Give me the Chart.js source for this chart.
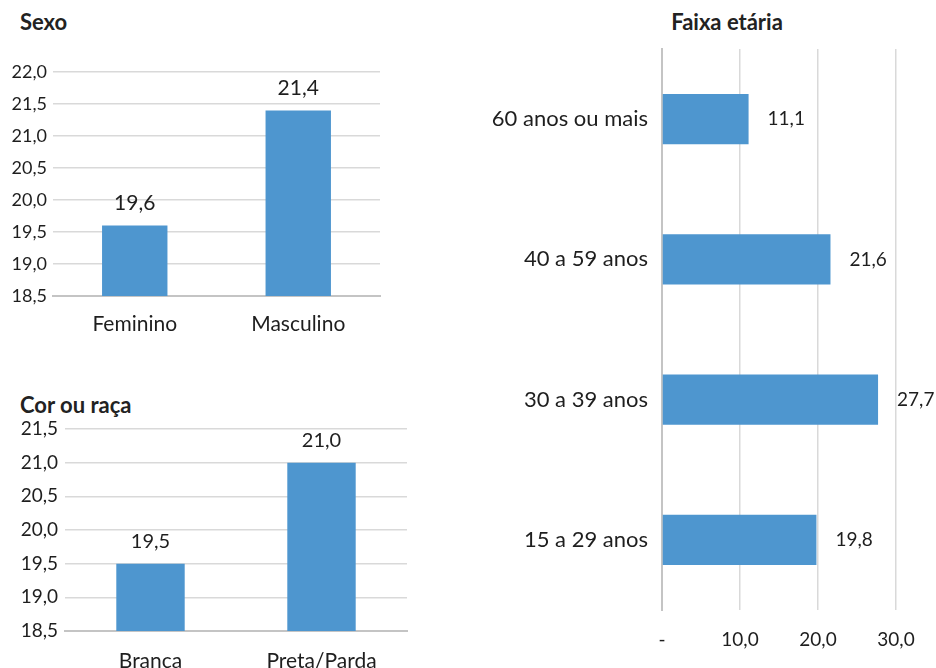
<!DOCTYPE html>
<html lang="pt-BR">
<head>
<meta charset="utf-8">
<title>Sexo, cor ou raça e faixa etária</title>
<script src="https://cdn.jsdelivr.net/npm/chart.js@4.4.1/dist/chart.umd.min.js"></script>
<style>
    body { margin: 0; background: #fff; font-family: Lato, "Open Sans", sans-serif; }
    #wrap { position: relative; width: 936px; height: 668px; overflow: hidden; }
    #wrap canvas { position: absolute; }
    .titulo { position: absolute; font-weight: 700; font-size: 22px; line-height: 24px; color: #222; white-space: nowrap; }
</style>
</head>
<body>
<div id="wrap">
    <div class="titulo" style="left:20px; top:10px;">Sexo</div>
    <div class="titulo" style="left:20px; top:393px;">Cor ou raça</div>
    <div class="titulo" style="left:727px; top:10px; transform:translateX(-50%);">Faixa etária</div>
    <canvas id="sexoChart" width="400" height="340" style="left:0; top:0;"></canvas>
    <canvas id="corChart" width="420" height="268" style="left:0; top:400px;"></canvas>
    <canvas id="faixaChart" width="456" height="668" style="left:480px; top:0;"></canvas>
</div>
<script>
// dados
const sexoLabels = ['Feminino', 'Masculino'];
const sexoValores = [19.6, 21.4];
const sexoTicks = { min: 18.5, max: 22.0, step: 0.5 };

const corLabels = ['Branca', 'Preta/Parda'];
const corValores = [19.5, 21.0];
const corTicks = { min: 18.5, max: 21.5, step: 0.5 };

const faixaLabels = ['60 anos ou mais', '40 a 59 anos', '30 a 39 anos', '15 a 29 anos'];
const faixaValores = [11.1, 21.6, 27.7, 19.8];
const faixaTicks = { min: 0, max: 30, step: 10 };

const AZUL = '#4e96cf';
const TEXTO = '#1e1e1e';
const GRADE = '#d9d9d9';
const EIXO = '#c4c4c4';
const FONTE = 'Lato, "Open Sans", sans-serif';

const fmt = v => Number(v).toFixed(1).replace('.', ',');

// rótulos de valor nas barras
const rotulosValor = {
    id: 'rotulosValor',
    afterDatasetsDraw(chart, args, opts) {
        const ctx = chart.ctx;
        const meta = chart.getDatasetMeta(0);
        const dados = chart.data.datasets[0].data;
        ctx.save();
        ctx.font = `${opts.size}px ${FONTE}`;
        ctx.fillStyle = TEXTO;
        ctx.textBaseline = 'middle';
        meta.data.forEach((bar, i) => {
            const txt = fmt(dados[i]);
            if (opts.horizontal) {
                ctx.textAlign = 'left';
                ctx.fillText(txt, bar.x + opts.offset, bar.y);
            } else {
                ctx.textAlign = 'center';
                ctx.fillText(txt, bar.x, bar.y - opts.offset);
            }
        });
        ctx.restore();
    }
};

function colunas(id, labels, valores, t, cfg) {
    return new Chart(document.getElementById(id), {
        type: 'bar',
        data: {
            labels: labels,
            datasets: [{
                data: valores,
                backgroundColor: AZUL,
                borderWidth: 0,
                barPercentage: 0.4,
                categoryPercentage: 1
            }]
        },
        options: {
            responsive: false,
            animation: false,
            layout: { padding: { top: cfg.top, right: cfg.right, left: 0, bottom: 0 } },
            plugins: {
                legend: { display: false },
                tooltip: { enabled: false },
                rotulosValor: { size: cfg.valorSize, offset: 22 }
            },
            scales: {
                x: {
                    grid: { display: false },
                    border: { color: EIXO, width: 2 },
                    ticks: { color: TEXTO, font: { family: FONTE, size: 21 }, padding: cfg.xPad },
                    afterFit: s => { s.height = cfg.xAltura; }
                },
                y: {
                    min: t.min,
                    max: t.max,
                    grid: { color: GRADE, lineWidth: 1.5, drawTicks: false },
                    border: { display: false },
                    ticks: {
                        stepSize: t.step,
                        color: TEXTO,
                        font: { family: FONTE, size: cfg.tickSize },
                        padding: cfg.yPad,
                        callback: v => fmt(v)
                    },
                    afterFit: s => { s.width = cfg.yLargura; }
                }
            }
        },
        plugins: [rotulosValor]
    });
}

colunas('sexoChart', sexoLabels, sexoValores, sexoTicks,
    { top: 72, right: 20, xAltura: 44, yLargura: 53, xPad: 8, yPad: 6, tickSize: 18, valorSize: 21 });

colunas('corChart', corLabels, corValores, corTicks,
    { top: 29, right: 13, xAltura: 37, yLargura: 65, xPad: 10, yPad: 7, tickSize: 19, valorSize: 20 });

// faixa etária - barras horizontais
new Chart(document.getElementById('faixaChart'), {
    type: 'bar',
    data: {
        labels: faixaLabels,
        datasets: [{
            data: faixaValores,
            backgroundColor: AZUL,
            borderWidth: 0,
            barPercentage: 0.357,
            categoryPercentage: 1
        }]
    },
    options: {
        indexAxis: 'y',
        responsive: false,
        animation: false,
        layout: { padding: { top: 49, right: 40, left: 0, bottom: 0 } },
        plugins: {
            legend: { display: false },
            tooltip: { enabled: false },
            rotulosValor: { size: 19, offset: 19, horizontal: true }
        },
        scales: {
            x: {
                min: faixaTicks.min,
                max: faixaTicks.max,
                grid: { color: GRADE, lineWidth: 1.5, drawTicks: false },
                border: { display: false },
                ticks: {
                    stepSize: faixaTicks.step,
                    color: TEXTO,
                    font: { family: FONTE, size: 19 },
                    padding: 18,
                    callback: v => v === 0 ? '-' : fmt(v)
                },
                afterFit: s => { s.height = 58; }
            },
            y: {
                grid: { display: false },
                border: { color: EIXO, width: 2 },
                ticks: { color: TEXTO, font: { family: FONTE, size: 22 }, padding: 6 },
                afterFit: s => { s.width = 182; }
            }
        }
    },
    plugins: [rotulosValor]
});
</script>
</body>
</html>
